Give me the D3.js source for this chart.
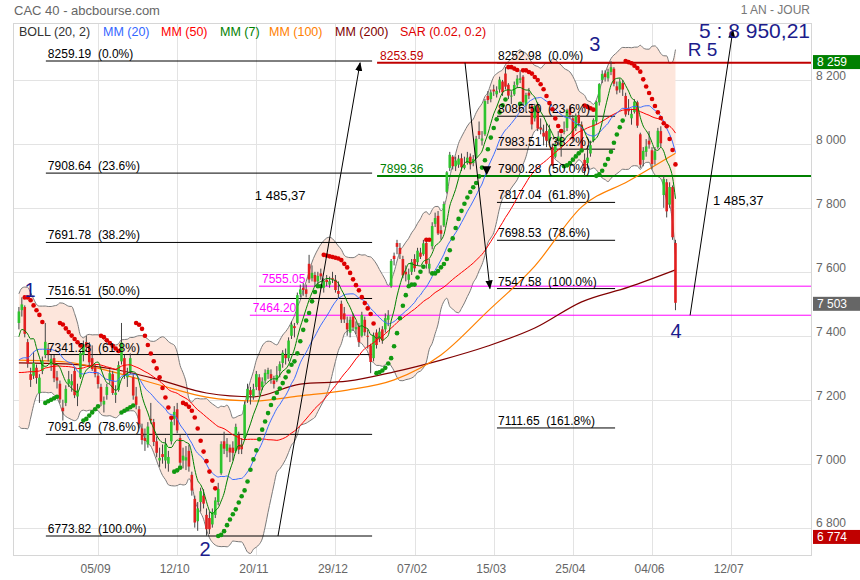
<!DOCTYPE html>
<html><head><meta charset="utf-8">
<script src="https://cdn.jsdelivr.net/npm/d3@7"></script>
<style>
body{margin:0;background:#fff}
svg{display:block}
text{font-family:"Liberation Sans",Arial,sans-serif}
</style></head>
<body><svg id="c" width="860" height="580"></svg>
<script>
// ---------------- DATA ----------------
// daily candles, 28/07/2023 .. 14/06/2024 (index 0..224)
const open=[7440,7480,7490,7380,7280,7275,7300,7220,7290,7340,
7360,7310,7330,7270,7250,7175,7190,7250,7245,7290,
7210,7270,7340,7380,7370,7330,7300,7275,7240,7185,
7215,7260,7280,7215,7230,7320,7330,7270,7290,7270,
7210,7170,7110,7080,7060,7140,7130,7070,7010,7030,
7010,7000,7070,7140,7170,7080,7010,7010,7040,6965,
6890,6820,6880,6900,6840,6830,6810,6840,6880,6970,
7070,7040,7050,7050,7040,7090,7060,7080,7200,7230,
7210,7240,7270,7240,7260,7280,7280,7260,7260,7290,
7315,7340,7330,7400,7430,7440,7530,7550,7545,7625,
7580,7590,7570,7595,7550,7575,7560,7580,7575,7540,
7500,7470,7440,7410,7460,7420,7430,7400,7450,7400,
7370,7330,7410,7390,7420,7420,7450,7555,7650,7690,
7675,7640,7600,7575,7600,7640,7630,7660,7655,7690,
7610,7680,7750,7775,7730,7745,7850,7925,7960,7930,
7935,7955,7925,7940,7960,7940,7960,8040,8010,8030,
8150,8140,8170,8155,8170,8195,8220,8185,8150,8155,
8185,8200,8210,8120,8160,8120,8080,8120,8050,8035,
8040,8010,7990,7960,8010,7990,8040,8050,8110,8080,
8050,8090,8060,7950,7940,7970,8010,8070,8130,8200,
8220,8205,8225,8235,8180,8170,8190,8150,8110,8080,
8100,8130,8030,7950,7975,8010,7980,7950,7990,8040,
7840,7880,7810,7865,7690];
const high=[7490,7520,7495,7390,7300,7350,7310,7280,7335,7440,
7375,7340,7340,7290,7260,7200,7245,7290,7280,7300,
7250,7350,7385,7400,7380,7370,7310,7285,7250,7210,
7250,7295,7290,7245,7320,7440,7340,7300,7345,7280,
7240,7180,7125,7110,7130,7190,7140,7085,7050,7060,
7080,7040,7140,7180,7190,7090,7050,7055,7060,6975,
6900,6880,6925,6920,6860,6850,6860,6895,6940,7070,
7100,7080,7060,7070,7125,7100,7080,7195,7250,7240,
7250,7290,7280,7270,7295,7300,7295,7275,7305,7320,
7355,7360,7395,7445,7440,7535,7560,7565,7560,7653,
7620,7600,7600,7610,7580,7590,7585,7600,7590,7570,
7510,7490,7460,7460,7470,7445,7440,7475,7460,7420,
7375,7410,7420,7425,7430,7470,7480,7640,7660,7700,
7690,7650,7620,7610,7640,7655,7675,7675,7700,7700,
7640,7755,7785,7790,7745,7820,7915,7975,7965,7960,
7965,7970,7960,7975,7970,7965,8025,8070,8040,8140,
8165,8170,8185,8180,8210,8200,8240,8190,8165,8195,
8215,8230,8215,8160,8175,8125,8125,8130,8080,8060,
8065,8060,8000,8010,8040,8030,8070,8110,8120,8090,
8095,8100,8070,7970,7995,8010,8080,8135,8190,8230,
8230,8235,8259,8240,8195,8205,8200,8160,8140,8110,
8140,8135,8035,7990,8015,8040,7990,7990,8050,8055,
7900,7890,7880,7870,7700];
const low=[7420,7460,7395,7300,7240,7265,7250,7190,7280,7330,
7320,7290,7255,7235,7190,7135,7180,7240,7225,7205,
7180,7265,7320,7350,7300,7290,7270,7235,7180,7160,
7200,7250,7215,7190,7225,7310,7265,7240,7280,7200,
7170,7110,7060,7040,7050,7125,7055,7020,6990,7000,
6985,6975,7060,7120,7095,6995,6985,6980,6975,6900,
6800,6790,6850,6860,6774,6780,6800,6830,6870,6965,
7030,7020,7005,7010,7035,7030,7030,7075,7190,7185,
7200,7230,7215,7230,7250,7265,7250,7235,7255,7270,
7300,7310,7320,7390,7395,7435,7520,7525,7520,7565,
7570,7555,7560,7575,7535,7555,7550,7565,7535,7515,
7440,7440,7400,7395,7415,7405,7365,7395,7400,7360,
7283,7320,7360,7380,7375,7410,7430,7550,7620,7655,
7640,7580,7570,7560,7590,7600,7620,7640,7650,7610,
7595,7670,7740,7715,7700,7740,7845,7915,7920,7915,
7925,7915,7920,7935,7920,7930,7955,8015,7995,8025,
8125,8130,8150,8145,8160,8150,8170,8140,8125,8150,
8175,8190,8120,8100,8140,8045,8070,8040,8030,7995,
7990,8000,7930,7955,7995,7960,8030,8040,8080,8010,
8040,8055,7980,7900,7925,7960,8005,8060,8120,8190,
8195,8195,8215,8180,8155,8160,8150,8085,8090,8060,
8095,8050,7925,7930,7960,7985,7920,7935,7985,7990,
7800,7770,7800,7700,7480];
const close=[7476,7498,7406,7313,7262,7315,7268,7269,7322,7381,
7341,7328,7267,7260,7201,7164,7234,7264,7258,7214,
7229,7346,7373,7364,7317,7296,7280,7249,7194,7196,
7240,7283,7221,7222,7308,7379,7278,7282,7330,7213,
7184,7123,7074,7071,7116,7135,7068,7034,7018,7021,
7060,7021,7131,7162,7104,7003,7025,7020,6991,6916,
6816,6860,6914,6875,6795,6795,6849,6885,6921,7061,
7047,7062,7035,7034,7115,7044,7045,7185,7234,7215,
7233,7280,7229,7257,7284,7293,7266,7249,7277,7311,
7347,7330,7385,7435,7424,7527,7545,7543,7531,7576,
7597,7569,7587,7586,7571,7568,7571,7578,7543,7531,
7451,7451,7420,7450,7426,7427,7380,7465,7411,7398,
7318,7401,7371,7413,7385,7455,7464,7634,7640,7678,
7656,7589,7592,7592,7630,7611,7666,7647,7689,7625,
7625,7743,7768,7720,7719,7812,7911,7966,7930,7948,
7954,7927,7934,7957,7936,7953,8016,8028,8017,8134,
8137,8161,8164,8166,8201,8161,8179,8151,8151,8184,
8204,8205,8130,8153,8151,8061,8119,8048,8045,8023,
8010,8045,7932,8000,8023,8022,8041,8106,8091,8016,
8088,8065,7985,7915,7957,7996,8075,8131,8187,8219,
8209,8225,8240,8188,8167,8195,8170,8092,8102,8094,
8132,8057,7935,7978,7992,7998,7937,7977,8041,8002,
7890,7789,7865,7708,7503];
// closes before the first visible candle (only feed the moving averages)
const priorCloses=[7492,7378,7253,7229,7319,7209,7209,7098,
7137,7270,7200,7209,7203,7213,7213,7250,7290,7329,7290,7388,7314,7286,7204,7203,7163,7185,7225,7295,7320,7400,
7386,7372,7331,7094,7111,7143,7220,7316,7378,7371,7316,7327,7337,7337,7432,7387,7369,7310,7466];
// long moving averages at these candle indices
const longMaIdx=[0,16,32,48,64,80,96,112,128,144,160,176,192,208,224];
const mm100=[7324,7318,7287,7246,7208,7196,7212,7230,7262,7340,7477,7618,7803,7884,7971];
const mm200=[7315,7312,7296,7262,7221,7209,7249,7258,7287,7324,7368,7424,7506,7552,7606];

const xTickLabels=["05/09","12/10","20/11","29/12","07/02","15/03","25/04","04/06","12/07"];
const xTickIdx=[27,54,81,108,135,162,189,216,243];
const yTicks=[6800,7000,7200,7400,7600,7800,8000,8200];

const fibLeft=[[8259.19,"0.0%"],[7908.64,"23.6%"],[7691.78,"38.2%"],[7516.51,"50.0%"],[7341.23,"61.8%"],[7091.69,"78.6%"],[6773.82,"100.0%"]];
const fibRight=[[8252.98,"0.0%"],[8086.50,"23.6%"],[7983.51,"38.2%"],[7900.28,"50.0%"],[7817.04,"61.8%"],[7698.53,"78.6%"],[7547.58,"100.0%"],[7111.65,"161.8%"]];
const fibLeftSpan=[9.2,120.5], fibRightSpan=[163.1,203.4];
const levels=[
 {v:8253.59,label:"8253.59",color:"#c00000",from:122.2,w:2},
 {v:7899.36,label:"7899.36",color:"#008000",from:122.2,w:2},
 {v:7555.05,label:"7555.05",color:"#ff00ff",from:81.9,w:1},
 {v:7464.20,label:"7464.20",color:"#ff00ff",from:78.8,w:1}];
const arrows=[
 {a:[88.4,6773.82],b:[116.4,8253.59]},
 {a:[152.2,8253.59],b:[160.7,7547.58]},
 {a:[229.0,7464.20],b:[243.6,8356]}];
const arrowTips=[{i:159.6,v:7902}];
const amplitudeLabels=[{t:"1 485,37",i:80.5,v:7823},{t:"1 485,37",i:236.8,v:7810}];
const waveLabels=[{t:"1",i:3.8,v:7521},{t:"2",i:63.5,v:6711},{t:"3",i:196.5,v:8290},{t:"4",i:224.2,v:7393}];
const legend=[["BOLL (20, 2)","#333333",19],["MM (20)","#3366ff",103],["MM (50)","#ff0000",161],["MM (7)","#008000",220],["MM (100)","#ff8000",269],["MM (200)","#800000",335],["SAR (0.02, 0.2)","#e00000",400]];
const markers=[{v:8259,t:"8 259",bg:"#008000"},{v:7503,t:"7 503",bg:"#666666"},{v:6774,t:"6 774",bg:"#c00000"}];

// ---------------- CHART ----------------
const svg=d3.select("#c");
const P={l:13,r:811,t:23,b:555};
const x=d3.scaleLinear().domain([-2,270]).range([13.04,810.3]);
const y=d3.scaleLinear().domain([6773.82,8259.19]).range([536,61]);
const N=close.length, idx=d3.range(N);

svg.append("rect").attr("width",860).attr("height",580).attr("fill","#fff");
svg.append("defs").append("clipPath").attr("id","clip").append("rect")
  .attr("x",P.l).attr("y",P.t).attr("width",P.r-P.l).attr("height",P.b-P.t);

// grid
const g=svg.append("g");
g.selectAll(".hg").data(yTicks).join("line").attr("x1",P.l).attr("x2",P.r)
 .attr("y1",d=>Math.round(y(d))+.5).attr("y2",d=>Math.round(y(d))+.5).attr("stroke","#e3e3e3");
g.selectAll(".vg").data(xTickIdx).join("line").attr("y1",P.t).attr("y2",P.b)
 .attr("x1",d=>Math.round(x(d))+.5).attr("x2",d=>Math.round(x(d))+.5).attr("stroke","#e3e3e3");
g.append("rect").attr("x",P.l+.5).attr("y",P.t+.5).attr("width",P.r-P.l).attr("height",P.b-P.t)
 .attr("fill","none").attr("stroke","#d6d6d6");

// indicators
const all=priorCloses.concat(close), off=priorCloses.length;
function sma(n,i){const j=i+off;const s=all.slice(j-n+1,j+1);return d3.mean(s);}
function sdv(n,i){const j=i+off;const s=all.slice(j-n+1,j+1);const m=d3.mean(s);return Math.sqrt(d3.mean(s,v=>(v-m)*(v-m)));}
const boll=idx.map(i=>{const m=sma(20,i),s=sdv(20,i);return {i,m,u:m+2*s,l:m-2*s};});
const plotG=svg.append("g").attr("clip-path","url(#clip)");
plotG.append("path").datum(boll).attr("fill","#fde6dc")
 .attr("d",d3.area().x(d=>x(d.i)).y0(d=>y(d.l)).y1(d=>y(d.u)).curve(d3.curveMonotoneX));
["u","l"].forEach(k=>plotG.append("path").datum(boll).attr("fill","none").attr("stroke","#7a7a7a").attr("stroke-width",1)
 .attr("d",d3.line().x(d=>x(d.i)).y(d=>y(d[k])).curve(d3.curveMonotoneX)));

// levels (drawn under candles)
const fl=plotG.append("g");
fibLeft.forEach(([v,p])=>{
  fl.append("line").attr("x1",x(fibLeftSpan[0])).attr("x2",x(fibLeftSpan[1])).attr("y1",y(v)).attr("y2",y(v)).attr("stroke","#000");
});
fibRight.forEach(([v,p])=>{
  fl.append("line").attr("x1",x(fibRightSpan[0])).attr("x2",x(fibRightSpan[1])).attr("y1",y(v)).attr("y2",y(v)).attr("stroke","#000");
});
levels.forEach(L=>{
  fl.append("line").attr("x1",x(L.from)).attr("x2",P.r).attr("y1",y(L.v)).attr("y2",y(L.v)).attr("stroke",L.color).attr("stroke-width",L.w);
});

// long MAs
const line=d3.line().curve(d3.curveMonotoneX);
plotG.append("path").attr("fill","none").attr("stroke","#800000").attr("stroke-width",1.2)
 .attr("d",line(longMaIdx.map((i,k)=>[x(i),y(mm200[k])])));
plotG.append("path").attr("fill","none").attr("stroke","#ff8000").attr("stroke-width",1.2)
 .attr("d",line(longMaIdx.map((i,k)=>[x(i),y(mm100[k])])));

// candles
const cg=plotG.append("g");
cg.selectAll(".w").data(idx).join("line").attr("x1",i=>x(i)).attr("x2",i=>x(i))
 .attr("y1",i=>y(high[i])).attr("y2",i=>y(low[i])).attr("stroke","#444").attr("stroke-width",1);
cg.selectAll(".b").data(idx).join("rect").attr("x",i=>x(i)-1.3).attr("width",2.6)
 .attr("y",i=>y(Math.max(open[i],close[i])))
 .attr("height",i=>Math.max(1,Math.abs(y(open[i])-y(close[i]))))
 .attr("fill",i=>close[i]>=open[i]?"#2ec42e":"#e11f1f");

// short MAs
const ma=(n,c,w)=>plotG.append("path").attr("fill","none").attr("stroke",c).attr("stroke-width",w||1)
 .attr("d",line(idx.map(i=>[x(i),y(sma(n,i))])));
ma(50,"#ff0000");ma(20,"#3a6cff");ma(7,"#008000");

// parabolic SAR (0.02, 0.2)
const sar=[];
(function(){let up=false,af=0.02,ep=low[2],s=Math.max(high[0],high[1]);
 sar[2]={v:s,up};
 for(let i=3;i<N;i++){
  s=s+af*(ep-s);
  if(up){s=Math.min(s,low[i-1],low[i-2]);
    if(low[i]<s){up=false;s=ep;ep=low[i];af=0.02;}
    else if(high[i]>ep){ep=high[i];af=Math.min(af+0.02,0.2);} }
  else{s=Math.max(s,high[i-1],high[i-2]);
    if(high[i]>s){up=true;s=ep;ep=high[i];af=0.02;}
    else if(low[i]<ep){ep=low[i];af=Math.min(af+0.02,0.2);} }
  sar[i]={v:s,up};
 }})();
plotG.selectAll(".sar").data(idx.filter(i=>sar[i])).join("circle")
 .attr("cx",i=>x(i)).attr("cy",i=>y(sar[i].v)).attr("r",2.3)
 .attr("fill",i=>sar[i].up?"#119911":"#dd0000");

// level labels
const tl=svg.append("g").style("font-size","12px");
fibLeft.forEach(([v,p])=>tl.append("text").attr("x",x(fibLeftSpan[0])+2).attr("y",y(v)-3).text(v.toFixed(2)+"  ("+p+")").attr("xml:space","preserve"));
fibRight.forEach(([v,p])=>tl.append("text").attr("x",x(fibRightSpan[0])+1).attr("y",y(v)-3).text(v.toFixed(2)+"  ("+p+")").attr("xml:space","preserve"));
levels.forEach(L=>tl.append("text").attr("x",x(L.from)+3).attr("y",y(L.v)-3).attr("fill",L.color).text(L.label));

// arrows
const defs=svg.select("defs");
defs.append("marker").attr("id","ah").attr("viewBox","0 0 10 10").attr("refX",9).attr("refY",5)
 .attr("markerWidth",9).attr("markerHeight",9).attr("orient","auto")
 .append("path").attr("d","M0,1L10,5L0,9z").attr("fill","#000");
arrows.forEach(A=>svg.append("line").attr("x1",x(A.a[0])).attr("y1",y(A.a[1])).attr("x2",x(A.b[0])).attr("y2",y(A.b[1]))
 .attr("stroke","#000").attr("stroke-width",1).attr("marker-end","url(#ah)"));
arrowTips.forEach(t=>svg.append("path").attr("transform",`translate(${x(t.i)},${y(t.v)})`)
 .attr("d","M-4.5,-9L4.5,-9L0,0z").attr("fill","#000"));
amplitudeLabels.forEach(d=>svg.append("text").attr("x",x(d.i)).attr("y",y(d.v)).style("font-size","13px").text(d.t));
waveLabels.forEach(d=>svg.append("text").attr("x",x(d.i)).attr("y",y(d.v)).attr("text-anchor","middle")
 .attr("fill","#1c1c8c").style("font-size","20px").text(d.t));
svg.append("text").attr("x",x(228.2)).attr("y",y(8274)).attr("fill","#1c1c8c").style("font-size","19px").text("R 5");
svg.append("text").attr("x",810).attr("y",y(8331)).attr("text-anchor","end").attr("fill","#1c1c8c").style("font-size","21px").text("5 : 8 950,21");

// header & legend
svg.append("text").attr("x",14).attr("y",15).attr("fill","#666").style("font-size","13px").text("CAC 40 - abcbourse.com");
svg.append("text").attr("x",810).attr("y",14).attr("text-anchor","end").attr("fill","#777").style("font-size","12px").text("1 AN - JOUR");
legend.forEach(([t,c,lx])=>svg.append("text").attr("x",lx).attr("y",36).attr("fill",c).style("font-size","12.5px").text(t));

// axes
const ya=svg.append("g").attr("transform",`translate(${P.r},-4.5)`)
 .call(d3.axisRight(y).tickValues(yTicks).tickSize(0).tickPadding(5).tickFormat(d=>d3.format(",")(d).replace(","," ")));
ya.select(".domain").remove();
ya.selectAll("text").attr("fill","#666").style("font-size","12px");
const xa=svg.append("g").attr("transform",`translate(-3,${P.b})`)
 .call(d3.axisBottom(x).tickValues(xTickIdx).tickSize(0).tickPadding(9).tickFormat((d,k)=>xTickLabels[k]));
xa.select(".domain").remove();
xa.selectAll("text").attr("fill","#666").style("font-size","12px").style("font-family",'"Liberation Sans Narrow","Arial Narrow",sans-serif');

// right markers
markers.forEach(m=>{
  const gm=svg.append("g").attr("transform",`translate(${P.r+2},${y(m.v)})`);
  gm.append("rect").attr("x",0).attr("y",-6).attr("width",47).attr("height",14).attr("fill",m.bg);
  gm.append("text").attr("x",4).attr("y",5).attr("fill","#fff").style("font-size","12px").text(m.t);
});
</script></body></html>
